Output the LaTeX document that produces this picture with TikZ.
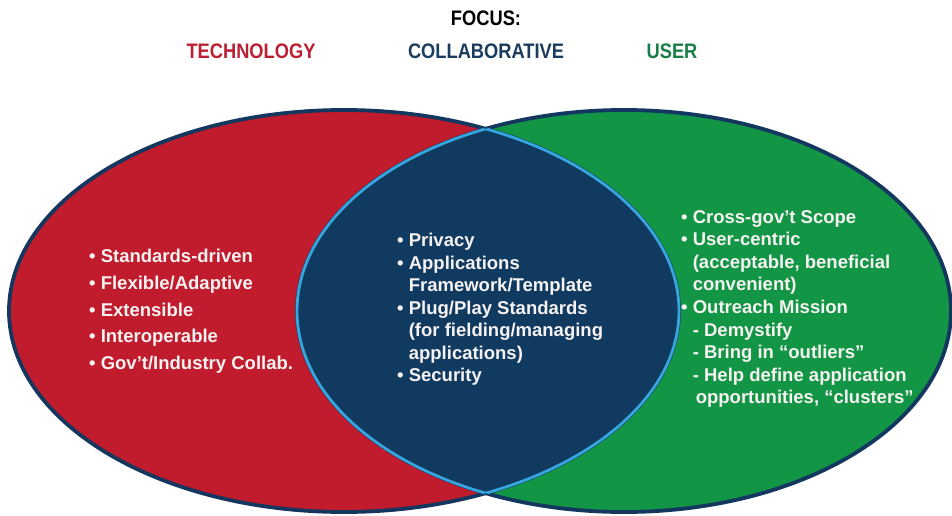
\documentclass[tikz,border=0pt]{standalone}
\usepackage{fontspec}
\setmainfont{Liberation Sans}
\usepackage{tikz}
\definecolor{techred}{RGB}{193,28,45}
\definecolor{userfill}{RGB}{18,150,70}
\definecolor{lensnavy}{RGB}{16,58,96}
\definecolor{rimnavy}{RGB}{20,55,95}
\definecolor{lensblue}{RGB}{55,165,222}
\definecolor{techtext}{RGB}{190,30,50}
\definecolor{collabtext}{RGB}{25,60,95}
\definecolor{usertext}{RGB}{25,125,70}
\definecolor{listwhite}{RGB}{246,242,242}

\begin{document}
\begin{tikzpicture}[x=1pt,y=-1pt,
  techsize/.style={x radius=335pt,y radius=201pt},
  usersize/.style={x radius=327pt,y radius=201pt},
  headline/.style={font=\fontsize{21}{24}\selectfont\bfseries,xscale=0.87,transform shape,inner sep=0pt},
  listbox/.style={anchor=north west,align=left,inner sep=0pt,text=listwhite}]
  \useasboundingbox (0,0) rectangle (952,516);
  \coordinate (techc) at (344,311);
  \coordinate (userc) at (624,311);

  % the two sets
  \fill[techred] (techc) ellipse [techsize];
  \fill[userfill] (userc) ellipse [usersize];
  \draw[rimnavy,line width=3.8pt] (techc) ellipse [techsize];
  \draw[rimnavy,line width=3.8pt] (userc) ellipse [usersize];

  % overlap
  \begin{scope}
    \clip (techc) ellipse [techsize];
    \fill[lensnavy] (userc) ellipse [usersize];
    \draw[lensblue,line width=2.8pt] (userc) ellipse [usersize];
  \end{scope}
  \begin{scope}
    \clip (userc) ellipse [usersize];
    \draw[lensblue,line width=2.8pt] (techc) ellipse [techsize];
  \end{scope}

  % headings
  \node[headline] (focus) at (486,18) {FOCUS:};
  \node[headline,text=techtext] (techtitle) at (251,51) {TECHNOLOGY};
  \node[headline,text=collabtext] (collabtitle) at (486,51) {COLLABORATIVE};
  \node[headline,text=usertext] (usertitle) at (672,51) {USER};

  % lists
  \node[listbox,font=\fontsize{18.5}{26.75}\selectfont\bfseries] (techlist) at (89,249)
    {• Standards-driven\\ • Flexible/Adaptive\\ • Extensible\\ • Interoperable\\ • Gov’t/Industry Collab.};
  \node[listbox,font=\fontsize{18.5}{22.5}\selectfont\bfseries] (collablist) at (397,233)
    {• Privacy\\ • Applications\\ \phantom{• }Framework/Template\\ • Plug/Play Standards\\
     \phantom{• }(for fielding/managing\\ \phantom{• }applications)\\ • Security};
  \node[listbox,font=\fontsize{18.5}{22.6}\selectfont\bfseries] (userlist) at (681,210)
    {• Cross-gov’t Scope\\ • User-centric\\ \phantom{• }(acceptable, beneficial\\ \phantom{• }convenient)\\
     • Outreach Mission\\ \phantom{• }- Demystify\\ \phantom{• }- Bring in “outliers”\\
     \phantom{• }- Help define application\\ \phantom{• }\hspace{3pt}opportunities, “clusters”};
\end{tikzpicture}
\end{document}
